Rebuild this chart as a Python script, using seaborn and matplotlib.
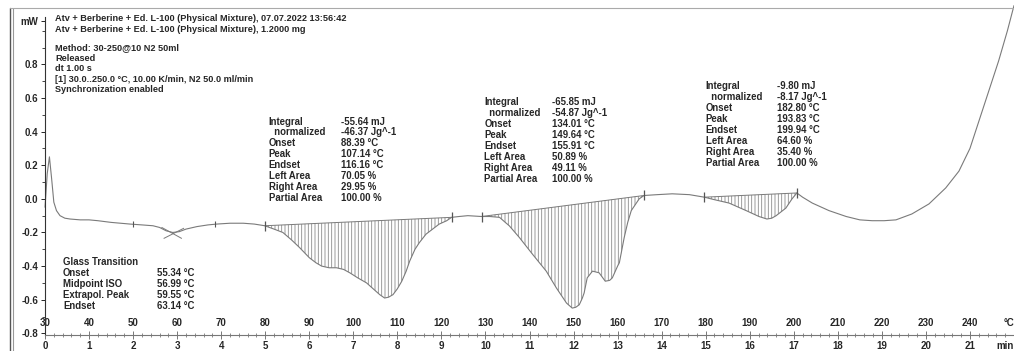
import numpy as np
import pandas as pd
import matplotlib
matplotlib.use("Agg")
import matplotlib.pyplot as plt
from matplotlib.lines import Line2D
from matplotlib.ticker import MultipleLocator
import seaborn as sns

# ---------------- data ----------------
temp_c = [30.0, 30.5, 31.0, 31.5, 32.0, 32.6, 33.4, 34.5, 35.7, 38.0, 40.0, 42.0, 45.0,
          49.3, 52.0, 54.5, 56.0, 57.5, 59.0, 60.5, 62.0, 64.5, 67.0, 69.0, 72.0, 75.0,
          77.5, 79.9, 82.0, 84.0, 86.0, 87.8, 90.0, 91.5, 92.8, 94.5, 96.2, 97.8, 99.2,
          101.0, 103.0, 104.5, 106.0, 107.1, 108.0, 109.0, 110.0, 111.0, 112.0, 112.8,
          114.0, 115.0, 116.5, 118.0, 119.5, 121.2, 122.3, 124.0, 126.0, 129.1, 131.0,
          133.2, 134.5, 135.4, 137.7, 140.7, 143.8, 146.1, 148.4, 149.7, 150.5, 151.3,
          152.0, 152.4, 153.1, 154.3, 155.8, 157.2, 158.2, 158.8, 160.0, 160.4, 161.5,
          162.3, 163.1, 164.9, 166.0, 169.0, 172.4, 176.3, 179.7, 182.0, 185.3, 189.2,
          192.1, 193.9, 195.0, 196.0, 198.2, 199.6, 200.7, 202.0, 204.2, 208.0, 211.9,
          215.0, 217.8, 220.5, 223.2, 226.8, 230.7, 234.5, 237.5, 240.0, 242.0, 244.0,
          246.5, 248.5, 250.0]
heat_flow = [-0.05, 0.15, 0.25, 0.12, -0.02, -0.07, -0.10, -0.115, -0.12, -0.125, -0.125,
             -0.13, -0.14, -0.15, -0.155, -0.16, -0.17, -0.19, -0.20, -0.195, -0.18, -0.165,
             -0.155, -0.15, -0.145, -0.145, -0.15, -0.16, -0.18, -0.20, -0.245, -0.29,
             -0.35, -0.38, -0.40, -0.41, -0.41, -0.42, -0.44, -0.47, -0.50, -0.535, -0.57,
             -0.59, -0.585, -0.57, -0.535, -0.49, -0.43, -0.37, -0.30, -0.26, -0.21, -0.18,
             -0.15, -0.13, -0.11, -0.105, -0.10, -0.105, -0.105, -0.11, -0.14, -0.16, -0.23,
             -0.33, -0.43, -0.53, -0.62, -0.65, -0.645, -0.63, -0.59, -0.56, -0.47, -0.43,
             -0.44, -0.49, -0.485, -0.47, -0.40, -0.38, -0.23, -0.14, -0.07, 0.0, 0.02,
             0.025, 0.03, 0.025, 0.01, -0.005, -0.025, -0.07, -0.105, -0.12, -0.115, -0.10,
             -0.055, 0.0, 0.035, 0.01, -0.025, -0.07, -0.105, -0.125, -0.13, -0.13, -0.125,
             -0.09, -0.03, 0.065, 0.165, 0.30, 0.46, 0.62, 0.82, 1.0, 1.15]

# integration limits (start T, start mW, end T, end mW)
peak_limits = [(79.9, -0.16, 122.3, -0.11),
               (129.1, -0.105, 166.0, 0.02),
               (179.7, 0.01, 200.7, 0.035)]
glass_limits_T = [50.0, 68.5]
glass_limits_mW = [-0.15, -0.15]
glass_tan1_T = [56.5, 61.0]
glass_tan1_mW = [-0.17, -0.235]
glass_tan2_T = [57.0, 61.5]
glass_tan2_mW = [-0.235, -0.175]

header_lines = ["Atv + Berberine + Ed. L-100 (Physical Mixture), 07.07.2022 13:56:42",
                "Atv + Berberine + Ed. L-100 (Physical Mixture), 1.2000 mg"]
method_lines = ["Method: 30-250@10 N2 50ml", "Released", "dt 1.00 s",
                "[1] 30.0..250.0 \u00b0C, 10.00 K/min, N2 50.0 ml/min",
                "Synchronization enabled"]

block_labels = ["Integral", "  normalized", "Onset", "Peak", "Endset",
                "Left Area", "Right Area", "Partial Area"]
block1_values = ["-55.64 mJ", "-46.37 Jg^-1", "88.39 \u00b0C", "107.14 \u00b0C",
                 "116.16 \u00b0C", "70.05 %", "29.95 %", "100.00 %"]
block2_values = ["-65.85 mJ", "-54.87 Jg^-1", "134.01 \u00b0C", "149.64 \u00b0C",
                 "155.91 \u00b0C", "50.89 %", "49.11 %", "100.00 %"]
block3_values = ["-9.80 mJ", "-8.17 Jg^-1", "182.80 \u00b0C", "193.83 \u00b0C",
                 "199.94 \u00b0C", "64.60 %", "35.40 %", "100.00 %"]
glass_labels = ["Glass Transition", "Onset", "Midpoint ISO", "Extrapol. Peak", "Endset"]
glass_values = ["", "55.34 \u00b0C", "56.99 \u00b0C", "59.55 \u00b0C", "63.14 \u00b0C"]

temp_ticks = [30, 40, 50, 60, 70, 80, 90, 100, 110, 120, 130, 140, 150, 160, 170,
              180, 190, 200, 210, 220, 230, 240, 250]
temp_tick_labels = [str(t) for t in temp_ticks[:-1]] + ["\u00b0C"]
min_ticks = list(range(0, 23))
min_tick_labels = [str(m) for m in range(0, 22)] + ["min"]
y_ticks = [-0.8, -0.6, -0.4, -0.2, 0.0, 0.2, 0.4, 0.6, 0.8, 1.06]
y_tick_labels = ["-0.8", "-0.6", "-0.4", "-0.2", "0.0", "0.2", "0.4", "0.6", "0.8", "mW"]

# ---------------- style ----------------
sns.set_style("ticks")
plt.rcParams["font.family"] = ["Liberation Sans", "DejaVu Sans"]
plt.rcParams["font.weight"] = "bold"
plt.rcParams["hatch.linewidth"] = 0.6
plt.rcParams["hatch.color"] = "#8c8c8c"

FS = 6.9
curve_color = "#7a7a7a"

fig = plt.figure(figsize=(10.14, 3.51), dpi=100)
ax = fig.add_axes([0.0444, 0.0456, 0.9556, 0.905])

df = pd.DataFrame({"T": temp_c, "mW": heat_flow})
sns.lineplot(data=df, x="T", y="mW", ax=ax, color=curve_color, lw=0.8,
             estimator=None, sort=False)
for ln in ax.get_lines():
    ln.set_clip_on(False)

T = np.array(temp_c)
Y = np.array(heat_flow)
for (t0, y0, t1, y1) in peak_limits:
    m = (T >= t0) & (T <= t1)
    base = np.interp(T[m], [t0, t1], [y0, y1])
    ax.fill_between(T[m], Y[m], base, facecolor="white", edgecolor="#8c8c8c",
                    hatch="|||||", linewidth=0)
    ax.plot([t0, t1], [y0, y1], color=curve_color, lw=0.7)
    ax.plot([t0, t1], [y0, y1], ls="none", marker="|", ms=7, mew=0.9, color="#555555")

ax.plot(glass_limits_T, glass_limits_mW, ls="none", marker="|", ms=5, mew=0.8, color="#555555")
ax.plot(glass_tan1_T, glass_tan1_mW, color=curve_color, lw=0.7)
ax.plot(glass_tan2_T, glass_tan2_mW, color=curve_color, lw=0.7)

ax.set_xlim(30, 250)
ax.set_ylim(-0.81, 1.08)
ax.set_xlabel("")
ax.set_ylabel("")
sns.despine(ax=ax, top=True, right=True)
ax.spines["left"].set_linewidth(0.8)
ax.spines["bottom"].set_linewidth(0.8)
ax.spines["left"].set_color("#333333")
ax.spines["bottom"].set_color("#777777")

ax.set_yticks(y_ticks)
ax.set_yticklabels(y_tick_labels, fontsize=7.0, fontweight="bold")
ax.yaxis.set_minor_locator(MultipleLocator(0.1))
ax.tick_params(axis="y", which="major", length=3, width=0.7, pad=2, direction="out")
ax.tick_params(axis="y", which="minor", length=2, width=0.6, direction="out")

ax.set_xticks(temp_ticks)
ax.set_xticklabels(temp_tick_labels, fontsize=7.0, fontweight="bold")
ax.xaxis.set_minor_locator(MultipleLocator(2))
ax.tick_params(axis="x", which="major", length=6, width=0.7, direction="inout",
               pad=-15.5, color="#777777")
ax.tick_params(axis="x", which="minor", length=3, width=0.6, direction="inout",
               color="#777777")
ax.get_xticklabels()[-1].set_ha("right")

sec = ax.secondary_xaxis("bottom", functions=(lambda t: (t - 30) / 10.0,
                                               lambda m: m * 10.0 + 30))
sec.set_xticks(min_ticks)
sec.set_xticklabels(min_tick_labels, fontsize=7.0, fontweight="bold")
sec.tick_params(axis="x", length=0, pad=4)
sec.spines["bottom"].set_visible(False)
sec.get_xticklabels()[-1].set_ha("right")

# ---------------- texts ----------------
def block(x_lab, x_val, y_top, labels, values, ls=1.12):
    ax.text(x_lab, y_top, "\n".join(labels), fontsize=FS, fontweight="bold",
            va="top", ha="left", linespacing=ls)
    ax.text(x_val, y_top, "\n".join(values), fontsize=FS, fontweight="bold",
            va="top", ha="left", linespacing=ls)

ax.text(32.3, 1.1, "\n".join(header_lines), fontsize=FS - 0.3, fontweight="bold",
        va="top", ha="left", linespacing=1.3)
ax.text(32.3, 0.925, "\n".join(method_lines), fontsize=FS - 0.3, fontweight="bold",
        va="top", ha="left", linespacing=1.2)

block(80.8, 97.3, 0.49, block_labels, block1_values)
block(129.7, 145.0, 0.605, block_labels, block2_values)
block(180.0, 196.1, 0.70, block_labels, block3_values)
block(34.1, 55.4, -0.345, glass_labels, glass_values)

# window frame lines
fig.add_artist(Line2D([10 / 1014, 10 / 1014], [0, 1 - 8 / 351], transform=fig.transFigure,
                      color="#555555", lw=1.0))
fig.add_artist(Line2D([13 / 1014, 13 / 1014], [0, 1 - 8 / 351], transform=fig.transFigure,
                      color="#999999", lw=0.8))
fig.add_artist(Line2D([10 / 1014, 1], [1 - 8 / 351, 1 - 8 / 351], transform=fig.transFigure,
                      color="#aaaaaa", lw=0.8))

fig.savefig("out.png", dpi=100)
